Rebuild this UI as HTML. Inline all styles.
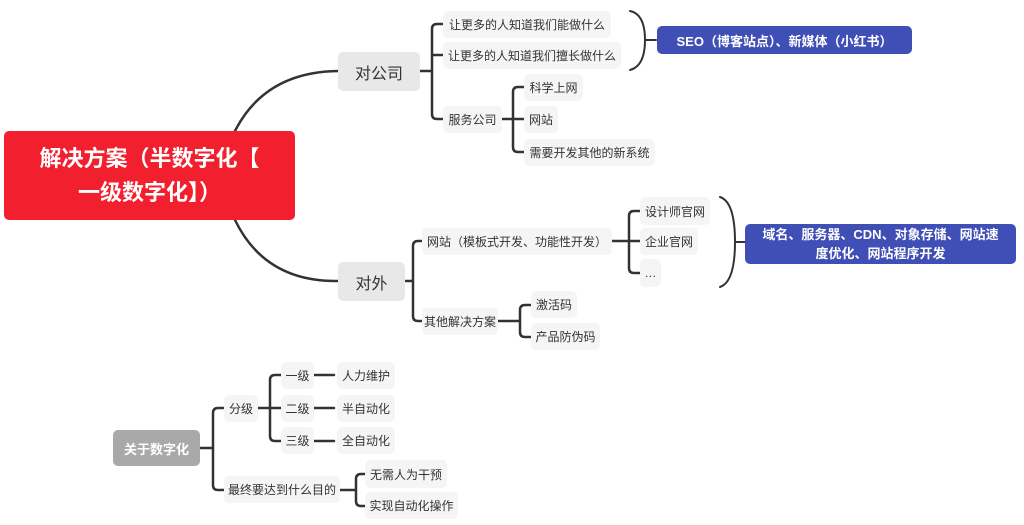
<!DOCTYPE html>
<html><head><meta charset="utf-8"><style>
body{margin:0;width:1024px;height:525px;background:#fff;position:relative;overflow:hidden;font-family:"Liberation Sans","Noto Sans CJK SC",sans-serif;}
.n{position:absolute;background:#f5f5f5;border-radius:5px;color:#333;font-size:12px;display:flex;align-items:center;justify-content:center;white-space:nowrap;}
.b{position:absolute;border-radius:5px;color:#fff;font-weight:bold;display:flex;align-items:center;justify-content:center;text-align:center;}
svg{position:absolute;left:0;top:0;}
</style></head><body>
<svg width="1024" height="525" fill="none" stroke="#333" stroke-width="2.5" stroke-linecap="round">
<path d="M235 131 Q265 72 338 71"/>
<path d="M235 220 Q265 282 338 281"/>
<path d="M420 71 H432 M443 24 H437 Q432 24 432 29 V114 Q432 119 437 119 H443 M432 55 H443"/>
<path d="M502 119 H513 M524 87 H518 Q513 87 513 92 V147 Q513 152 518 152 H524 M513 119 H524"/>
<path d="M630 11 Q645 14 645 40 Q645 66 630 70" stroke-width="2"/>
<path d="M645 40 H656" stroke-width="2"/>
<path d="M405 281 H413 M422 241 H418 Q413 241 413 246 V316 Q413 321 418 321 H422"/>
<path d="M612 241 H629 M640 211 H634 Q629 211 629 216 V268 Q629 273 634 273 H640 M629 241 H640"/>
<path d="M720 197 Q735 202 735 242 Q735 282 720 287" stroke-width="2"/>
<path d="M735 242 H745" stroke-width="2"/>
<path d="M498 321 H520 M531 305 H525 Q520 305 520 310 V332 Q520 337 525 337 H531"/>
<path d="M200 448 H213 M224 408 H218 Q213 408 213 413 V485 Q213 490 218 490 H224"/>
<path d="M258 408 H270 M281 375 H275 Q270 375 270 380 V436 Q270 441 275 441 H281 M270 408 H281"/>
<path d="M314 375 H334 M314 408 H334 M314 441 H334"/>
<path d="M340 490 H356 M365 474 H361 Q356 474 356 479 V501 Q356 506 361 506 H365"/>
</svg>
<div class="b" style="left:4px;top:131px;width:291px;height:89px;background:#f21f2e;font-size:22px;line-height:34px;">解决方案（半数字化【<br>一级数字化】）</div>
<div class="n" style="left:338px;top:52px;width:82px;height:39px;font-size:16px;background:#e8e8e8;">对公司</div>
<div class="n" style="left:338px;top:262px;width:67px;height:39px;font-size:16px;background:#e8e8e8;">对外</div>
<div class="n" style="left:443px;top:11px;width:168px;height:27px;">让更多的人知道我们能做什么</div>
<div class="n" style="left:443px;top:42px;width:178px;height:27px;">让更多的人知道我们擅长做什么</div>
<div class="n" style="left:443px;top:106px;width:59px;height:27px;">服务公司</div>
<div class="n" style="left:524px;top:74px;width:59px;height:27px;">科学上网</div>
<div class="n" style="left:524px;top:106px;width:34px;height:27px;">网站</div>
<div class="n" style="left:524px;top:139px;width:131px;height:27px;">需要开发其他的新系统</div>
<div class="b" style="left:657px;top:26px;width:255px;height:28px;background:#3f4fb5;font-size:13px;">SEO（博客站点）、新媒体（小红书）</div>
<div class="n" style="left:422px;top:228px;width:190px;height:27px;">网站（模板式开发、功能性开发）</div>
<div class="n" style="left:422px;top:308px;width:76px;height:27px;">其他解决方案</div>
<div class="n" style="left:640px;top:197px;width:70px;height:28px;">设计师官网</div>
<div class="n" style="left:640px;top:228px;width:58px;height:27px;">企业官网</div>
<div class="n" style="left:640px;top:259px;width:21px;height:28px;">…</div>
<div class="b" style="left:745px;top:224px;width:271px;height:40px;background:#3f4fb5;font-size:13px;line-height:19px;">域名、服务器、CDN、对象存储、网站速<br>度优化、网站程序开发</div>
<div class="n" style="left:531px;top:291px;width:46px;height:27px;">激活码</div>
<div class="n" style="left:531px;top:323px;width:69px;height:27px;">产品防伪码</div>
<div class="b" style="left:113px;top:430px;width:87px;height:36px;background:#a9a9a9;font-size:13px;">关于数字化</div>
<div class="n" style="left:224px;top:395px;width:34px;height:27px;">分级</div>
<div class="n" style="left:224px;top:476px;width:116px;height:27px;">最终要达到什么目的</div>
<div class="n" style="left:281px;top:362px;width:33px;height:27px;">一级</div>
<div class="n" style="left:281px;top:395px;width:33px;height:27px;">二级</div>
<div class="n" style="left:281px;top:427px;width:33px;height:27px;">三级</div>
<div class="n" style="left:337px;top:362px;width:58px;height:27px;">人力维护</div>
<div class="n" style="left:337px;top:395px;width:58px;height:27px;">半自动化</div>
<div class="n" style="left:337px;top:427px;width:58px;height:27px;">全自动化</div>
<div class="n" style="left:365px;top:460px;width:82px;height:28px;">无需人为干预</div>
<div class="n" style="left:365px;top:492px;width:93px;height:27px;">实现自动化操作</div>
</body></html>
